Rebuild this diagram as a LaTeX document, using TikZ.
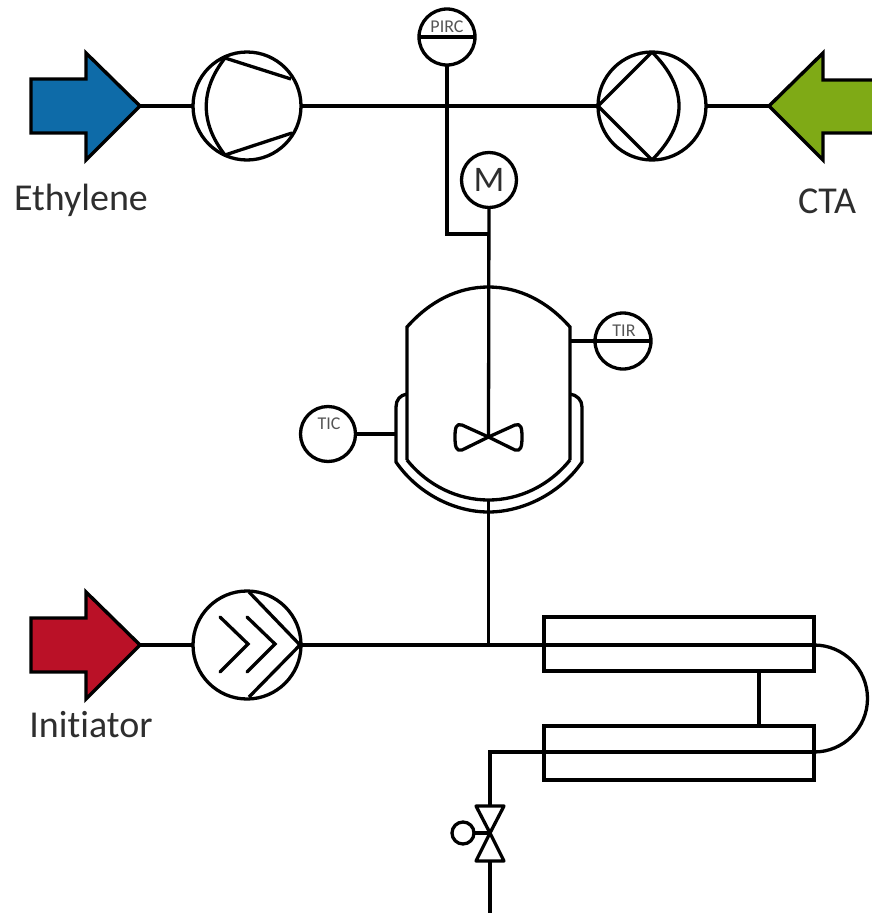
\documentclass[tikz,border=0pt]{standalone}
\usepackage{fontspec}
\setmainfont[RawFeature={-liga}]{Carlito}
\usetikzlibrary{calc}
\definecolor{ethblue}{HTML}{0E6BA8}
\definecolor{ctagreen}{HTML}{7FAA16}
\definecolor{initred}{HTML}{BA1127}
\definecolor{txtgray}{HTML}{2E2E2E}
\definecolor{taggray}{HTML}{555555}
\tikzset{
  pipe/.style={line width=3.3pt,line join=miter},
  bar/.style={line width=4.6pt},
  feed/.style={line width=3.4pt,line join=miter,draw=black},
  machine/.style={circle,draw,line width=3.3pt,minimum size=108pt,inner sep=0pt,outer sep=0pt},
  instr/.style={circle,draw,line width=3.3pt,minimum size=55pt,inner sep=0pt,outer sep=0pt},
  tube/.style={draw,line width=3.3pt,minimum width=270pt,minimum height=54pt,inner sep=0pt,outer sep=0pt},
  tag/.style={text=taggray,font=\fontsize{18pt}{19pt}\selectfont,inner sep=0pt},
  lab/.style={text=txtgray,font=\fontsize{38pt}{40pt}\selectfont,inner sep=0pt}
}
\begin{document}
\begin{tikzpicture}[x=1pt,y=-1pt]
\useasboundingbox (0,0) rectangle (872,913);
% feed arrows
\filldraw[feed,fill=ethblue] (31,79) -- (86,79) -- (86,53) -- (140,106) -- (86,160) -- (86,133) -- (31,133) -- cycle;
\filldraw[feed,fill=ctagreen] (874,80) -- (823,80) -- (823,53) -- (769,106) -- (823,160) -- (823,133) -- (874,133);
\filldraw[feed,fill=initred] (31,618) -- (86,618) -- (86,592) -- (140,645) -- (86,699) -- (86,672) -- (31,672) -- cycle;
\coordinate (blueTip) at (140,106);
\coordinate (greenTip) at (769,106);
\coordinate (redTip) at (140,645);
% machines
\node[machine] (comp1) at (247,106) {};
\node[machine] (comp2) at (652,106) {};
\node[machine] (pump) at (247,645) {};
\draw[pipe] (225,58) -- (291,79) (225,155) -- (292,133);
\draw[pipe] (225,58) .. controls (200,90) and (200,123) .. (225,155);
\draw[pipe] (652,52) -- (598,106) -- (652,160);
\draw[pipe] (652,52) .. controls (688,88) and (688,124) .. (652,160);
\draw[pipe] (249,592) -- (300,645) -- (249,697);
\draw[pipe,line cap=round] (220,617) -- (248,644) -- (220,672);
\draw[pipe,line cap=round] (247,617) -- (275,644) -- (247,672);
% instruments
\node[instr,minimum size=56pt] (pirc) at (447,37) {};
\node[tag] at (447,26.5) {PIRC};
\draw[bar] (pirc.west) -- (pirc.east);
\node[instr] (motor) at (489,180) {};
\node[text=txtgray,font=\fontsize{36pt}{38pt}\selectfont,inner sep=0pt] at (489,180) {M};
\node[instr,minimum size=56pt] (tir) at (623,341) {};
\node[tag] at (624,330.5) {TIR};
\node[instr] (tic) at (328,434) {};
\node[tag] at (329,423.5) {TIC};
% reactor
\coordinate (vesselTop) at (488.5,287);
\coordinate (vesselBottom) at (488.5,500);
\coordinate (jacketBottom) at (488.5,512);
\coordinate (tirTap) at (570,341);
\coordinate (ticTap) at (396,434);
\coordinate (hub) at (488.5,437);
\draw[pipe] (407,460) -- (407,327) .. controls (430,301) and (458,287) .. (vesselTop) .. controls (519,287) and (547,301) .. (570,327) -- (570,460);
\draw[pipe] (407,460) .. controls (428,486) and (458,500) .. (vesselBottom) .. controls (519,500) and (549,486) .. (570,460);
\draw[pipe] (407,394) .. controls (400,395) and (396,400) .. (396,407) -- (396,462) .. controls (418,494) and (455,512) .. (jacketBottom) .. controls (522,512) and (560,494) .. (582,462) -- (582,407) .. controls (582,400) and (577,395) .. (570,394);
\draw[pipe,line join=round] (hub) -- (462,425) .. controls (456,423) and (455,428) .. (455,437) .. controls (455,446) and (456,452) .. (462,450) -- (hub) -- (515,425) .. controls (521,423) and (522,428) .. (522,437) .. controls (522,446) and (521,452) .. (515,450) -- cycle;
% tubes
\node[tube] (tube1) at (679,644) {};
\node[tube] (tube2) at (679,753) {};
% valve
\coordinate (valveHub) at (490,833);
\node[circle,draw,line width=3.3pt,minimum size=22pt,inner sep=0pt,outer sep=0pt] (actuator) at (463,833) {};
\draw[pipe,line join=round] (valveHub) -- (476,806) -- (504,806) -- cycle;
\draw[pipe,line join=round] (valveHub) -- (476,861) -- (504,861) -- cycle;
\draw[pipe] (actuator) -- (valveHub);
% piping
\coordinate (joinTop) at (447,106);
\coordinate (joinM) at (488.5,234);
\coordinate (joinMain) at (488.5,645);
\coordinate (tube1R) at (814,645);
\coordinate (tube2R) at (814,752);
\coordinate (tube2in) at (490,752);
\coordinate (out) at (490,913);
\draw[pipe] (blueTip) -- (comp1);
\draw[pipe] (comp1) -- (comp2);
\draw[pipe] (comp2) -- (greenTip);
\draw[pipe] (redTip) -- (pump);
\draw[pipe] (pump) -- (joinMain) -- (tube1R);
\draw[pipe] (pirc) -- (joinTop) -- (447,234) -- (joinM);
\draw[pipe] (motor) -- (hub);
\draw[pipe] (jacketBottom |- vesselBottom) -- (joinMain);
\draw[pipe] (tirTap) -- (tir.west);
\draw[bar] (tir.west) -- (tir.east);
\draw[pipe] (tic) -- (ticTap);
\draw[pipe] (tube1.south -| 759,0) -- (tube2.north -| 759,0);
\draw[pipe] (tube1R) arc[start angle=-90,end angle=90,radius=53.5];
\draw[pipe] (tube2R) -- (tube2in) -- (490,806);
\draw[pipe] (490,861) -- (out);
% labels
\node[lab] at (81,200) {Ethylene};
\node[lab] at (827,201) {CTA};
\node[lab] at (91,725) {Initiator};
\end{tikzpicture}
\end{document}
